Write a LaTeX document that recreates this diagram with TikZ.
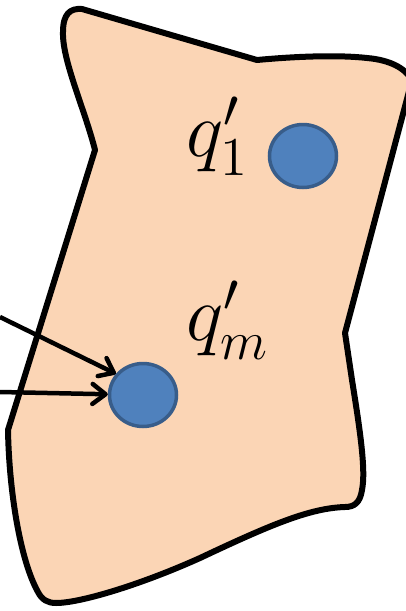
\documentclass[tikz,border=0pt]{standalone}
\usetikzlibrary{shapes.geometric,arrows.meta}
\definecolor{peach}{HTML}{FBD5B5}
\definecolor{dotfill}{HTML}{4F81BD}
\definecolor{dotline}{HTML}{385D8A}
\begin{document}
\begin{tikzpicture}[x=1pt,y=-1pt,
  region/.style={fill=peach,draw=black,line width=6pt,line join=round},
  dot/.style={ellipse,fill=dotfill,draw=dotline,line width=3.5pt,minimum width=67pt,minimum height=63pt,inner sep=0pt},
  lbl/.style={anchor=base west,inner sep=0pt,font=\fontsize{20.74}{24}\selectfont,scale=3.8},
  arr/.style={line width=4.5pt,-{Straight Barb[length=13pt,width=20pt,round]}}]
\useasboundingbox (0,0) rectangle (405,611);
% region
\path[region] (95,150) .. controls (85,110) and (62,60) .. (63,32)
  .. controls (63,14) and (70,8) .. (82,9)
  -- (257,60)
  .. controls (300,56) and (340,55) .. (367,58)
  .. controls (390,60) and (405,68) .. (412,80)
  -- (345,333)
  -- (352,380)
  .. controls (360,430) and (366,470) .. (362,490)
  .. controls (360,503) and (354,507) .. (345,507)
  .. controls (310,508) and (270,525) .. (200,558)
  .. controls (140,585) and (80,603) .. (56,603)
  .. controls (48,603) and (42,600) .. (38,592)
  .. controls (20,560) and (9,490) .. (8,430)
  -- cycle;
% dots
\node[dot] (c1) at (303,156) {};
\node[dot] (c2) at (143,395) {};
% labels
\coordinate (p1) at (186,156);
\coordinate (pm) at (186,340);
\node[lbl] (l1) at (p1) {$q'_1$};
\node[lbl] (lm) at (pm) {$q'_m$};
% arrows
\coordinate (s1) at (0,317);
\coordinate (s2) at (0,392);
\draw[arr] (s1) -- (c2.142);
\draw[arr] (s2) -- (c2);
\end{tikzpicture}
\end{document}
